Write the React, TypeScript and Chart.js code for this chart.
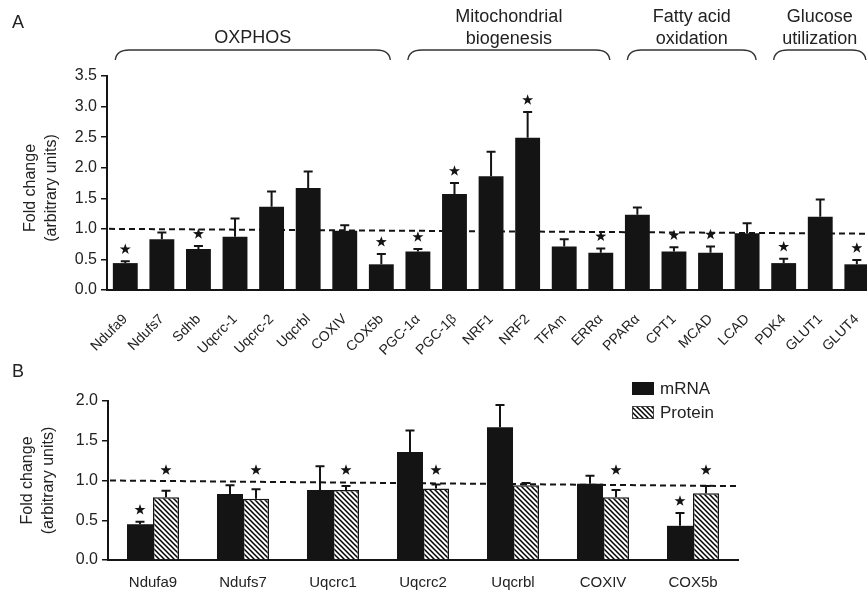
import React, { useEffect, useRef } from 'react';
import { Chart, registerables } from 'chart.js';

Chart.register(...registerables);

const FONT = 'Arial, "Liberation Sans", Helvetica, sans-serif';
const INK = '#141414';
const TEXT = '#222';

// ---------- Panel A data ----------
const genesA = ['Ndufa9', 'Ndufs7', 'Sdhb', 'Uqcrc-1', 'Uqcrc-2', 'Uqcrbl', 'COXIV', 'COX5b', 'PGC-1α', 'PGC-1β', 'NRF1', 'NRF2', 'TFAm', 'ERRα', 'PPARα', 'CPT1', 'MCAD', 'LCAD', 'PDK4', 'GLUT1', 'GLUT4'];
const foldA = [0.44, 0.83, 0.67, 0.87, 1.36, 1.67, 0.97, 0.42, 0.63, 1.57, 1.86, 2.49, 0.71, 0.61, 1.23, 0.63, 0.61, 0.93, 0.44, 1.2, 0.42];
const errTopA = [0.47, 0.94, 0.72, 1.17, 1.61, 1.94, 1.06, 0.59, 0.67, 1.75, 2.26, 2.91, 0.83, 0.68, 1.35, 0.7, 0.71, 1.09, 0.51, 1.48, 0.49];
const sigA = [true, false, true, false, false, false, false, true, true, true, false, true, false, true, false, true, true, false, true, false, true];
const yTicksA = [0, 0.5, 1, 1.5, 2, 2.5, 3, 3.5];
const groupNames = [['OXPHOS'], ['Mitochondrial', 'biogenesis'], ['Fatty acid', 'oxidation'], ['Glucose', 'utilization']];
const groupStart = [0, 8, 14, 18];
const groupEnd = [7, 13, 17, 20];
const refLineA = [1.0, 0.92];

// ---------- Panel B data ----------
const genesB = ['Ndufa9', 'Ndufs7', 'Uqcrc1', 'Uqcrc2', 'Uqcrbl', 'COXIV', 'COX5b'];
const mrnaB = [0.45, 0.83, 0.88, 1.36, 1.67, 0.96, 0.43];
const mrnaErrTopB = [0.48, 0.94, 1.18, 1.63, 1.95, 1.06, 0.59];
const proteinB = [0.79, 0.77, 0.88, 0.9, 0.94, 0.79, 0.84];
const proteinErrTopB = [0.87, 0.89, 0.93, 0.95, 0.97, 0.88, 0.93];
const mrnaSigB = [true, false, false, false, false, false, true];
const proteinSigB = [true, true, true, true, false, true, true];
const proteinStarLevel = 1.13;
const yTicksB = [0, 0.5, 1, 1.5, 2];
const refLineB = [1.0, 0.93];
const seriesNames = ['mRNA', 'Protein'];

function makeHatch(): any {
  const c = document.createElement('canvas');
  const s = 5;
  c.width = s;
  c.height = s;
  const g = c.getContext('2d')!;
  g.fillStyle = '#fff';
  g.fillRect(0, 0, s, s);
  g.strokeStyle = '#000';
  g.lineWidth = 1.5;
  g.beginPath();
  g.moveTo(-1, -1);
  g.lineTo(s + 1, s + 1);
  g.moveTo(-1, s - 1);
  g.lineTo(1, s + 1);
  g.moveTo(s - 1, -1);
  g.lineTo(s + 1, 1);
  g.stroke();
  return g.createPattern(c, 'repeat');
}

function drawStar(ctx: CanvasRenderingContext2D, cx: number, cy: number) {
  const R = 5.8;
  const r = 2.3;
  ctx.beginPath();
  for (let i = 0; i < 10; i++) {
    const ang = -Math.PI / 2 + (i * Math.PI) / 5;
    const rad = i % 2 === 0 ? R : r;
    const px = cx + rad * Math.cos(ang);
    const py = cy + rad * Math.sin(ang);
    if (i === 0) ctx.moveTo(px, py);
    else ctx.lineTo(px, py);
  }
  ctx.closePath();
  ctx.fillStyle = INK;
  ctx.fill();
}

function drawErr(ctx: CanvasRenderingContext2D, x: number, y0: number, y1: number) {
  ctx.beginPath();
  ctx.moveTo(x, y0);
  ctx.lineTo(x, y1);
  ctx.moveTo(x - 4.5, y1);
  ctx.lineTo(x + 4.5, y1);
  ctx.stroke();
}

function drawRef(chart: any, vals: number[], endInset: number) {
  const { ctx, chartArea: a, scales } = chart;
  const y = scales.y;
  ctx.save();
  ctx.setLineDash([6, 4]);
  ctx.lineWidth = 2;
  ctx.strokeStyle = INK;
  ctx.beginPath();
  ctx.moveTo(a.left + 2, y.getPixelForValue(vals[0]));
  ctx.lineTo(a.right - endInset, y.getPixelForValue(vals[1]));
  ctx.stroke();
  ctx.restore();
}

function drawYTitle(ctx: CanvasRenderingContext2D, cy: number, x1: number, x2: number) {
  ctx.save();
  ctx.fillStyle = TEXT;
  ctx.font = `16px ${FONT}`;
  ctx.textAlign = 'center';
  ctx.textBaseline = 'middle';
  ctx.translate(x1, cy);
  ctx.rotate(-Math.PI / 2);
  ctx.fillText('Fold change', 0, 0);
  ctx.restore();
  ctx.save();
  ctx.fillStyle = TEXT;
  ctx.font = `16px ${FONT}`;
  ctx.textAlign = 'center';
  ctx.textBaseline = 'middle';
  ctx.translate(x2, cy);
  ctx.rotate(-Math.PI / 2);
  ctx.fillText('(arbitrary units)', 0, 0);
  ctx.restore();
}

const decorA = {
  id: 'decorA',
  beforeDatasetsDraw(chart: any) {
    drawRef(chart, refLineA, 0);
  },
  afterDatasetsDraw(chart: any) {
    const { ctx, scales } = chart;
    const y = scales.y;
    const meta = chart.getDatasetMeta(0);
    ctx.save();
    ctx.strokeStyle = INK;
    ctx.lineWidth = 2;
    meta.data.forEach((bar: any, i: number) => {
      const top = y.getPixelForValue(errTopA[i]);
      drawErr(ctx, bar.x, y.getPixelForValue(foldA[i]), top);
      if (sigA[i]) drawStar(ctx, bar.x, top - 12);
    });
    ctx.restore();
  },
  afterDraw(chart: any) {
    const { ctx, chartArea: a, scales } = chart;
    const x = scales.x;
    ctx.save();
    ctx.fillStyle = TEXT;
    ctx.font = `18px ${FONT}`;
    ctx.textAlign = 'left';
    ctx.textBaseline = 'alphabetic';
    ctx.fillText('A', 12, 28);
    // brackets
    const by = 50;
    groupNames.forEach((names, g) => {
      const x1 = x.getPixelForValue(groupStart[g]) - 10;
      const x2 = x.getPixelForValue(groupEnd[g]) + 9;
      ctx.strokeStyle = '#333';
      ctx.lineWidth = 1.4;
      ctx.beginPath();
      ctx.moveTo(x1, by + 10);
      ctx.quadraticCurveTo(x1 + 1, by, x1 + 14, by);
      ctx.lineTo(x2 - 14, by);
      ctx.quadraticCurveTo(x2 - 1, by, x2, by + 10);
      ctx.stroke();
      const cx = (x1 + x2) / 2;
      ctx.fillStyle = TEXT;
      ctx.font = `18px ${FONT}`;
      ctx.textAlign = 'center';
      ctx.textBaseline = 'middle';
      if (names.length === 1) {
        ctx.fillText(names[0], cx, 38);
      } else {
        ctx.fillText(names[0], cx, 17);
        ctx.fillText(names[1], cx, 39);
      }
    });
    ctx.restore();
    drawYTitle(ctx, (a.top + a.bottom) / 2 + 5, 31, 52);
  },
};

const decorB = {
  id: 'decorB',
  beforeDatasetsDraw(chart: any) {
    drawRef(chart, refLineB, 2);
  },
  afterDatasetsDraw(chart: any) {
    const { ctx, scales } = chart;
    const y = scales.y;
    const m0 = chart.getDatasetMeta(0);
    const m1 = chart.getDatasetMeta(1);
    ctx.save();
    ctx.strokeStyle = INK;
    ctx.lineWidth = 2;
    m0.data.forEach((bar: any, i: number) => {
      const top = y.getPixelForValue(mrnaErrTopB[i]);
      drawErr(ctx, bar.x, y.getPixelForValue(mrnaB[i]), top);
      if (mrnaSigB[i]) drawStar(ctx, bar.x, top - 12);
    });
    m1.data.forEach((bar: any, i: number) => {
      const top = y.getPixelForValue(proteinErrTopB[i]);
      drawErr(ctx, bar.x, y.getPixelForValue(proteinB[i]), top);
      if (proteinSigB[i]) drawStar(ctx, bar.x, y.getPixelForValue(proteinStarLevel));
    });
    ctx.restore();
  },
  afterDraw(chart: any) {
    const { ctx, chartArea: a } = chart;
    ctx.save();
    ctx.fillStyle = TEXT;
    ctx.font = `18px ${FONT}`;
    ctx.textAlign = 'left';
    ctx.textBaseline = 'alphabetic';
    ctx.fillText('B', 12, 17);
    // legend
    const lx = a.right - 106;
    const ly = [a.top - 19, a.top + 5];
    const fills = [INK, chart.data.datasets[1].backgroundColor];
    seriesNames.forEach((name, i) => {
      ctx.fillStyle = fills[i];
      ctx.fillRect(lx, ly[i], 22, 13);
      if (i === 1) {
        ctx.strokeStyle = '#444';
        ctx.lineWidth = 1;
        ctx.strokeRect(lx + 0.5, ly[i] + 0.5, 21, 12);
      }
      ctx.fillStyle = TEXT;
      ctx.font = `17px ${FONT}`;
      ctx.textBaseline = 'middle';
      ctx.fillText(name, lx + 28, ly[i] + 7);
    });
    ctx.restore();
    drawYTitle(ctx, (a.top + a.bottom) / 2, 28, 49);
  },
};

export default function App() {
  const refA = useRef<HTMLCanvasElement>(null);
  const refB = useRef<HTMLCanvasElement>(null);

  useEffect(() => {
    const hatch = makeHatch();
    const axisY = (ticks: number[], max: number, width: number) => ({
      min: 0,
      max,
      afterBuildTicks: (s: any) => {
        s.ticks = ticks.map((v) => ({ value: v }));
      },
      afterFit: (s: any) => {
        s.width = width;
      },
      grid: { display: true, drawOnChartArea: false, drawTicks: true, tickLength: 6, color: INK, lineWidth: 1.5 },
      border: { display: true, color: INK, width: 2 },
      ticks: {
        padding: 4,
        color: TEXT,
        font: { family: FONT, size: 16 },
        callback: (v: any) => Number(v).toFixed(1),
      },
    });

    const chartA = new Chart(refA.current!, {
      type: 'bar',
      data: {
        labels: genesA,
        datasets: [
          {
            label: 'Fold change',
            data: foldA,
            backgroundColor: INK,
            borderWidth: 0,
            barPercentage: 0.68,
            categoryPercentage: 1,
          },
        ],
      },
      options: {
        animation: false,
        responsive: false,
        devicePixelRatio: 1,
        layout: { padding: { top: 76, right: 12, left: 0, bottom: 0 } },
        plugins: { legend: { display: false }, tooltip: { enabled: false } },
        scales: {
          x: {
            grid: { display: false, drawTicks: false },
            border: { display: true, color: INK, width: 2 },
            ticks: {
              autoSkip: false,
              minRotation: 45,
              maxRotation: 45,
              padding: 21,
              color: TEXT,
              font: { family: FONT, size: 14 },
            },
            afterFit: (s: any) => {
              s.height = 80;
            },
          },
          y: axisY(yTicksA, 3.5, 107) as any,
        },
      },
      plugins: [decorA],
    });

    const chartB = new Chart(refB.current!, {
      type: 'bar',
      data: {
        labels: genesB,
        datasets: [
          {
            label: seriesNames[0],
            data: mrnaB,
            backgroundColor: INK,
            borderWidth: 0,
            barPercentage: 1,
            categoryPercentage: 0.578,
          },
          {
            label: seriesNames[1],
            data: proteinB,
            backgroundColor: hatch,
            borderColor: INK,
            borderWidth: 1.5,
            barPercentage: 1,
            categoryPercentage: 0.578,
          },
        ],
      },
      options: {
        animation: false,
        responsive: false,
        devicePixelRatio: 1,
        layout: { padding: { top: 41, right: 129, left: 0, bottom: 0 } },
        plugins: { legend: { display: false }, tooltip: { enabled: false } },
        scales: {
          x: {
            grid: { display: false, drawTicks: false },
            border: { display: true, color: INK, width: 2 },
            ticks: {
              autoSkip: false,
              maxRotation: 0,
              padding: 14,
              color: TEXT,
              font: { family: FONT, size: 15 },
            },
            afterFit: (s: any) => {
              s.height = 41;
            },
          },
          y: axisY(yTicksB, 2.0, 108) as any,
        },
      },
      plugins: [decorB],
    });

    return () => {
      chartA.destroy();
      chartB.destroy();
    };
  }, []);

  return (
    <div
      style={{
        position: 'fixed',
        left: 0,
        top: 0,
        width: 867,
        height: 601,
        overflow: 'hidden',
        background: '#fff',
      }}
    >
      <canvas
        ref={refA}
        width={890}
        height={370}
        style={{ position: 'absolute', left: 0, top: 0, width: 890, height: 370 }}
      />
      <canvas
        ref={refB}
        width={867}
        height={241}
        style={{ position: 'absolute', left: 0, top: 360, width: 867, height: 241 }}
      />
    </div>
  );
}
